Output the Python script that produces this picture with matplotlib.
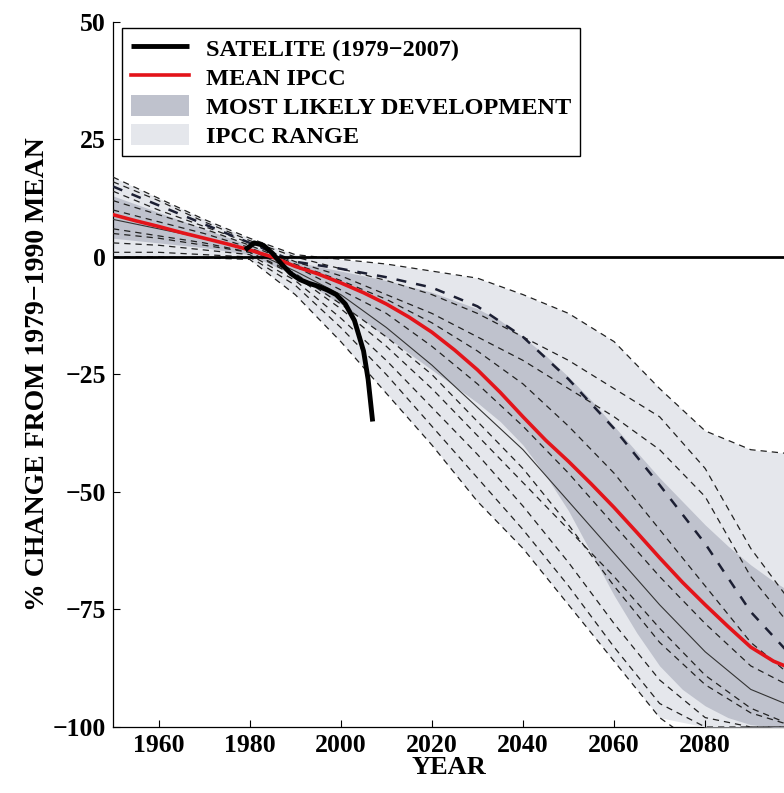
import matplotlib
matplotlib.use("Agg")
import matplotlib.pyplot as plt
import numpy as np

plt.rcParams['font.family'] = ['Liberation Serif', 'DejaVu Serif']
plt.rcParams['font.weight'] = 'bold'

# satellite record (1979-2007)
sat_years = [1979, 1981, 1983, 1985, 1987, 1989, 1991, 1993, 1995, 1997, 1999, 2001, 2003, 2005, 2006, 2007]
sat_vals = [1.5, 3.0, 2.5, 0.8, -1.5, -3.5, -4.8, -5.6, -6.2, -7.0, -8.0, -10.0, -13.5, -20.0, -26.0, -35.0]

# mean of IPCC models
mean_years = [1950, 1955, 1960, 1965, 1970, 1975, 1980, 1985, 1990, 1995, 2000, 2005, 2010, 2015,
              2020, 2025, 2030, 2035, 2040, 2045, 2050, 2055, 2060, 2065, 2070, 2075, 2080, 2085,
              2090, 2095, 2100]
mean_vals = [9, 7.7, 6.5, 5.2, 4, 2.8, 1.5, 0, -2, -3.6, -5.5, -7.6, -10, -12.8, -16, -19.8, -24,
             -28.8, -34, -39, -43.5, -48.3, -53.3, -58.6, -64, -69.2, -74, -78.6, -83, -86, -88]

years = [1950, 1960, 1970, 1980, 1990, 2000, 2010, 2020, 2030, 2040, 2050, 2060, 2070, 2080, 2090, 2100]

# most likely development band
band_years = [1950, 1960, 1970, 1980, 1990, 2000, 2010, 2020, 2030, 2035, 2040, 2045, 2050, 2055,
              2060, 2065, 2070, 2075, 2080, 2085, 2090, 2095, 2100]
likely_hi = [13, 9.5, 6, 2.5, -1, -3, -5, -7.5, -11, -13.5, -17, -21, -25.5, -30.5, -36, -41.5,
             -47, -52, -57, -61.5, -65.5, -69, -72]
likely_lo = [4, 3, 2, 0.5, -4, -10, -17, -24, -31, -35, -40, -46.5, -54, -63, -72, -80, -87, -92,
             -95.5, -98, -99.5, -100, -100]

# IPCC range band
range_hi = [17, 12.5, 8, 4, 0.5, -0.5, -1.5, -3, -4.5, -8, -12, -18, -28, -37, -41, -42]
range_lo = [0, 0, -0.2, -0.5, -8, -18, -29, -40, -52, -62, -74, -86, -98, -100, -100, -100]

# individual IPCC model runs
models = [
    [17, 12.5, 8, 4, 0.5, -0.5, -1.5, -3, -4.5, -8, -12, -18, -28, -37, -41, -42],
    [16, 12, 7.5, 3.5, 0, -2.5, -5, -8, -12, -17, -22, -28, -34, -45, -62, -75],
    [14, 10, 6.5, 3, -1, -4, -8, -12, -17, -22, -28, -34, -41, -51, -68, -80],
    [12, 9, 6, 2.5, -1.5, -5, -9, -14, -20, -27, -36, -46, -58, -70, -82, -90],
    [10, 7.5, 5, 2, -2, -7, -12, -19, -27, -36, -46, -57, -68, -78, -87, -92],
    [6, 4.5, 3, 1, -3.5, -10, -17, -25, -35, -45, -57, -70, -82, -91, -97, -100],
    [5, 4, 2.5, 1, -4, -11, -19, -28, -38, -48, -58, -68, -79, -89, -96, -100],
    [3, 2.5, 1.5, 0.5, -5, -13, -22, -32, -42, -53, -65, -78, -90, -98, -100, -100],
    [1, 1, 0.5, 0, -6, -15, -25, -36, -47, -58, -70, -83, -95, -100, -100, -100],
    [0, 0, -0.2, -0.5, -8, -18, -29, -40, -52, -62, -74, -86, -98, -105, -110, -115],
]
heavy_model = [15, 11, 7, 3, -1, -2.5, -4.3, -6.5, -10.5, -17, -26, -36.5, -48.5, -61, -75.5, -86]
solid_model = [8, 6, 4, 1.5, -3, -8, -15, -23, -32, -41, -52, -63, -74, -84, -92, -96]

fig = plt.figure(figsize=(7.84, 7.93), dpi=100)
ax = fig.add_axes([113 / 784, 1 - 727 / 793, 1 - 113 / 784, (727 - 22) / 793])

light = ax.fill_between(years, range_lo, range_hi, color='#e5e7ec', lw=0, zorder=1)
dark = ax.fill_between(band_years, likely_lo, likely_hi, color='#bfc2cd', lw=0, zorder=2)

for m in models:
    ax.plot(years, m, color='#222222', lw=0.9, ls=(0, (5, 4)), zorder=3)
ax.plot(years, heavy_model, color='#1c1f33', lw=1.8, ls=(0, (4, 4)), zorder=3)
ax.plot(years, solid_model, color='#333333', lw=0.8, zorder=3)

ax.axhline(0, color='black', lw=2.0, zorder=4)
red, = ax.plot(mean_years, mean_vals, color='#e3141a', lw=2.6, zorder=5)
sat, = ax.plot(sat_years, sat_vals, color='black', lw=3.5, zorder=6,
               solid_capstyle='butt')

ax.set_xlim(1950, 2097.3)
ax.set_ylim(-100, 50)
ax.set_xticks([1960, 1980, 2000, 2020, 2040, 2060, 2080])
ax.set_yticks([50, 25, 0, -25, -50, -75, -100])
ax.set_yticklabels(['50', '25', '0', '\u221225', '\u221250', '\u221275', '\u2212100'])
ax.tick_params(direction='in', length=5, width=0.8, labelsize=18.5, pad=5)
for lab in ax.get_xticklabels() + ax.get_yticklabels():
    lab.set_fontweight('bold')
for s in ['top', 'right']:
    ax.spines[s].set_visible(False)
ax.spines['left'].set_linewidth(0.9)
ax.spines['bottom'].set_linewidth(0.9)
ax.spines['bottom'].set_zorder(0.5)

ax.set_xlabel('YEAR', fontsize=19, fontweight='bold', labelpad=-1)
ax.set_ylabel('% CHANGE FROM 1979\u22121990 MEAN', fontsize=20, fontweight='bold', labelpad=2)

leg = ax.legend([sat, red, dark, light],
                ['SATELITE (1979\u22122007)', 'MEAN IPCC', 'MOST LIKELY DEVELOPMENT', 'IPCC RANGE'],
                loc='upper left', bbox_to_anchor=(122 / 784, 1 - 28 / 793),
                bbox_transform=fig.transFigure, borderaxespad=0,
                fancybox=False, framealpha=1, edgecolor='black',
                prop={'family': 'Liberation Serif', 'weight': 'bold', 'size': 17.5},
                handlelength=2.4, handleheight=1.0, labelspacing=0.2, borderpad=0.35,
                handletextpad=0.7)
leg.get_frame().set_linewidth(1.0)
leg.set_zorder(10)

fig.savefig('out.png', dpi=100)
